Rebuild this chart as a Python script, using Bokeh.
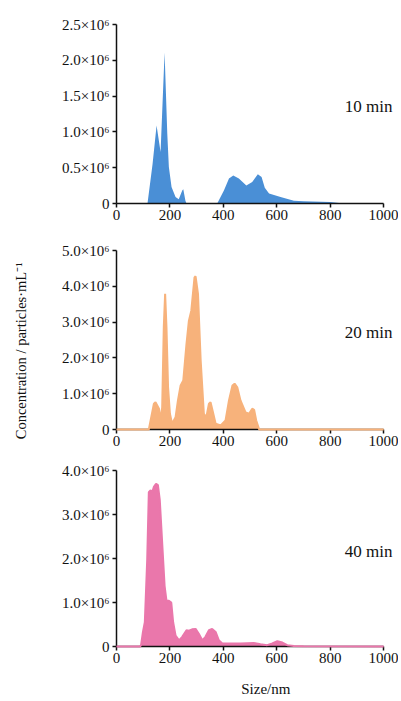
import math
from bokeh.plotting import figure
from bokeh.layouts import column
from bokeh.models import Range1d, FixedTicker, Label
from bokeh.embed import file_html
from bokeh.resources import INLINE

# ---- data (concentration in units of 10^6 particles/mL) ----
size_10 = [116, 135, 150, 165, 180, 190, 196, 206, 221, 233, 246, 250, 258, 262,
           377, 402, 421, 437, 458, 486, 508, 529, 543, 555, 571, 614, 664, 700, 800, 850]
conc_10 = [0.0, 0.55, 1.09, 0.72, 2.11, 0.98, 0.51, 0.23, 0.09, 0.06, 0.18, 0.20, 0.04, 0.0,
           0.0, 0.18, 0.35, 0.39, 0.35, 0.25, 0.30, 0.41, 0.37, 0.22, 0.14, 0.09, 0.04, 0.03, 0.02, 0.0]

size_20 = [0, 121, 140, 146, 159, 165, 171, 177, 182, 187, 193, 200, 208, 221, 230, 240, 250,
           262, 271, 280, 292, 296, 305, 315, 327, 336, 346, 352, 361, 371, 390, 408, 421,
           434, 442, 452, 464, 483, 496, 508, 515, 523, 534, 1000]
conc_20 = [0.0, 0.0, 0.72, 0.76, 0.58, 0.25, 0.62, 2.86, 3.79, 2.86, 1.18, 0.44, 0.16, 0.34, 0.81, 1.23, 1.37,
           2.39, 3.04, 3.32, 4.25, 4.28, 3.79, 1.93, 0.44, 0.34, 0.72, 0.76, 0.48, 0.16, 0.11, 0.25, 0.81,
           1.23, 1.28, 1.18, 0.81, 0.48, 0.44, 0.58, 0.55, 0.25, 0.0, 0.0]

size_40 = [0, 88, 92, 99, 106, 115, 121, 127, 134, 140, 148, 155, 162, 171, 180, 187, 196, 205, 212,
           221, 234, 246, 262, 271, 283, 296, 308, 321, 333, 346, 358, 371, 383, 396, 415, 464,
           514, 539, 564, 583, 602, 621, 639, 664, 700, 1000]
conc_40 = [0.0, 0.0, 0.03, 0.33, 0.55, 1.98, 3.51, 3.55, 3.51, 3.63, 3.70, 3.67, 3.33, 2.35, 1.38, 1.04, 1.04, 1.0, 0.55,
           0.25, 0.14, 0.22, 0.37, 0.36, 0.39, 0.40, 0.29, 0.14, 0.22, 0.37, 0.40, 0.33, 0.14, 0.07, 0.07, 0.07,
           0.08, 0.05, 0.03, 0.07, 0.12, 0.09, 0.03, 0.01, 0.005, 0.0]

x_ticks = [0, 200, 400, 600, 800, 1000]
y_ticks_10 = [0, 0.5, 1.0, 1.5, 2.0, 2.5]
y_ticks_20 = [0, 1, 2, 3, 4, 5]
y_ticks_40 = [0, 1, 2, 3, 4]
y_labels_10 = ["0", "0.5×10⁶", "1.0×10⁶", "1.5×10⁶", "2.0×10⁶", "2.5×10⁶"]
y_labels_20 = ["0", "1.0×10⁶", "2.0×10⁶", "3.0×10⁶", "4.0×10⁶", "5.0×10⁶"]
y_labels_40 = ["0", "1.0×10⁶", "2.0×10⁶", "3.0×10⁶", "4.0×10⁶"]
panel_titles = ["10 min", "20 min", "40 min"]
x_title = "Size/nm"
y_title = "Concentration / particles·mL⁻¹"

FONT = "Liberation Serif"
INK = "#111111"
NBSP = "\u00a0"


def make_panel(xs, ys, color, yticks, ylabels, ymax, title, title_y, height, top, bottom, outline):
    p = figure(width=398, height=height, output_backend="svg", toolbar_location=None,
               x_range=Range1d(0, 1048), y_range=Range1d(0, ymax),
               min_border_left=116, min_border_right=2, min_border_top=top, min_border_bottom=bottom)
    p.outline_line_color = None
    p.grid.visible = False
    p.varea(x=xs, y1=[0] * len(xs), y2=ys, fill_color=color, fill_alpha=1.0)
    if outline:
        r = p.line(x=xs, y=ys, line_color=color, line_width=2)
        r.level = "overlay"
    p.xaxis.ticker = FixedTicker(ticks=x_ticks)
    p.xaxis.bounds = (0, 1000)
    p.yaxis.ticker = FixedTicker(ticks=yticks)
    p.yaxis.major_label_overrides = {t: l for t, l in zip(yticks, ylabels)}
    for ax in (p.xaxis, p.yaxis):
        ax.axis_line_color = INK
        ax.axis_line_width = 1.5
        ax.major_tick_line_color = INK
        ax.major_tick_line_width = 1.5
        ax.major_tick_out = 4
        ax.major_tick_in = 0
        ax.minor_tick_line_color = None
        ax.major_label_text_font = FONT
        ax.major_label_text_font_size = "15px"
        ax.major_label_text_color = INK
        ax.axis_label_text_font = FONT
        ax.axis_label_text_font_size = "15px"
        ax.axis_label_text_font_style = "normal"
        ax.axis_label_text_color = INK
    p.xaxis.major_label_standoff = 2
    p.yaxis.major_label_standoff = 3
    p.add_layout(Label(x=944, y=title_y, text=title, text_align="center", text_baseline="middle",
                       text_font=FONT, text_font_size="17px", text_color=INK))
    return p


p1 = make_panel(size_10, conc_10, "#4a8fd6", y_ticks_10, y_labels_10, 2.5, panel_titles[0], 1.35, 232, 24, 29, False)
p2 = make_panel(size_20, conc_20, "#f7b27b", y_ticks_20, y_labels_20, 5.0, panel_titles[1], 2.71, 220, 18, 23, True)
p3 = make_panel(size_40, conc_40, "#ea77ab", y_ticks_40, y_labels_40, 4.0, panel_titles[2], 2.16, 247, 18, 51, True)

# padding with no-break spaces nudges the centred titles to where the reference has them
p2.yaxis.axis_label = y_title + NBSP * 6
p2.yaxis.axis_label_text_font_size = "14.5px"
p2.yaxis.axis_label_standoff = 30
p3.xaxis.axis_label = NBSP * 5 + x_title
p3.xaxis.axis_label_standoff = 15

layout = column(p1, p2, p3)
open("out.html", "w").write(file_html(layout, INLINE))
